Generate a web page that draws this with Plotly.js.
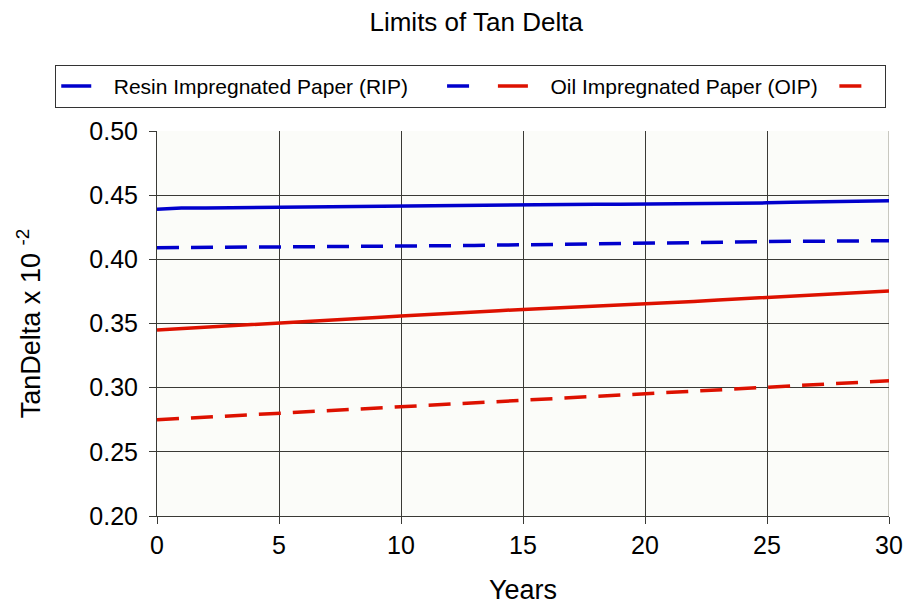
<!DOCTYPE html>
<html>
<head>
<meta charset="utf-8">
<script src="https://cdn.plot.ly/plotly-3.0.1.min.js"></script>
<style>html,body{margin:0;padding:0;background:#fff;}#chart{width:907px;height:607px;}</style>
</head>
<body>
<div id="chart"></div>
<script>
const years = [0,1,2,3,4,5,6,7,8,9,10,11,12,13,14,15,16,17,18,19,20,21,22,23,24,25,26,27,28,29,30];
const ripLimit = [0.4390,0.4400,0.4400,0.4402,0.4404,0.4406,0.4408,0.4410,0.4414,0.4416,0.4418,0.4421,0.4423,0.4423,0.4423,0.4424,0.4425,0.4427,0.4429,0.4430,0.4431,0.4432,0.4434,0.4436,0.4437,0.4440,0.4444,0.4447,0.4450,0.4453,0.4457];
const ripLower = [0.4090,0.4091,0.4092,0.4094,0.4095,0.4096,0.4097,0.4098,0.4099,0.4100,0.4101,0.4102,0.4105,0.4108,0.4111,0.4114,0.4117,0.4120,0.4123,0.4126,0.4128,0.4130,0.4132,0.4134,0.4136,0.4138,0.4140,0.4142,0.4143,0.4144,0.4145];
const oipLimit = [0.3450,0.3460,0.3470,0.3480,0.3490,0.3500,0.3511,0.3522,0.3534,0.3546,0.3558,0.3570,0.3580,0.3590,0.3600,0.3610,0.3618,0.3626,0.3634,0.3643,0.3652,0.3662,0.3672,0.3683,0.3694,0.3704,0.3714,0.3724,0.3734,0.3744,0.3754];
const oipLower = [0.2750,0.2760,0.2770,0.2780,0.2790,0.2800,0.2810,0.2820,0.2830,0.2840,0.2850,0.2862,0.2874,0.2885,0.2895,0.2905,0.2913,0.2921,0.2930,0.2944,0.2955,0.2965,0.2975,0.2985,0.2993,0.3003,0.3013,0.3023,0.3033,0.3043,0.3054];
const seriesNames = ["\u00a0\u00a0\u00a0Resin Impregnated Paper (RIP)\u00a0\u00a0\u00a0\u00a0\u00a0", "\u00a0", "\u00a0\u00a0\u00a0Oil Impregnated Paper (OIP)\u00a0\u00a0", "\u00a0"];
const xTicks = [0,5,10,15,20,25,30];
const yTicks = [0.20,0.25,0.30,0.35,0.40,0.45,0.50];

const blue = "#0000cc", red = "#dd1100";
const traces = [
  {x: years, y: ripLimit, name: seriesNames[0], mode: "lines", line: {color: blue, width: 3.5}},
  {x: years, y: ripLower, name: seriesNames[1], mode: "lines", line: {color: blue, width: 3.5, dash: "22px,12px"}},
  {x: years, y: oipLimit, name: seriesNames[2], mode: "lines", line: {color: red, width: 3.5}},
  {x: years, y: oipLower, name: seriesNames[3], mode: "lines", line: {color: red, width: 3.5, dash: "22px,12px"}}
];
const layout = {
  width: 907, height: 607,
  margin: {l: 157, r: 18, t: 131, b: 91},
  paper_bgcolor: "#ffffff",
  plot_bgcolor: "#fbfcf9",
  font: {family: "Liberation Sans, Arial, sans-serif", color: "#000"},
  title: {text: "Limits of Tan Delta", font: {size: 26}, x: 0.525, xanchor: "center", y: 0.964, yanchor: "middle"},
  showlegend: true,
  legend: {orientation: "h", x: -0.139, xanchor: "left", y: 1.172, yanchor: "top",
           bordercolor: "#333", borderwidth: 1, bgcolor: "#ffffff", font: {size: 21},
           traceorder: "normal", itemwidth: 30},
  shapes: [
    {type: "line", xref: "x", yref: "paper", x0: 30, x1: 30, y0: 0, y1: 1, line: {color: "#c8c8c0", width: 2}, layer: "between"}
  ],
  xaxis: {range: [0, 30], tickvals: xTicks, ticktext: xTicks.map(String), showgrid: true, gridcolor: "#3a3a36", gridwidth: 1,
          zeroline: false, showline: true, linecolor: "#3a3a36", mirror: false, ticks: "outside", ticklen: 7, tickcolor: "#3a3a36",
          tickfont: {size: 25}, title: {text: "Years", font: {size: 27}, standoff: 22}},
  yaxis: {range: [0.20, 0.50], tickvals: yTicks, ticktext: yTicks.map(v => v.toFixed(2)), showgrid: true, gridcolor: "#3a3a36", gridwidth: 1,
          zeroline: false, showline: true, linecolor: "#3a3a36", ticks: "outside", ticklen: 7, tickcolor: "#3a3a36",
          ticklabelstandoff: 6,
          tickfont: {size: 25}, title: {text: "TanDelta x 10 <sup>-2</sup>", font: {size: 27}, standoff: 40}}
};
Plotly.newPlot("chart", traces, layout, {displayModeBar: false, staticPlot: true});
</script>
</body>
</html>
